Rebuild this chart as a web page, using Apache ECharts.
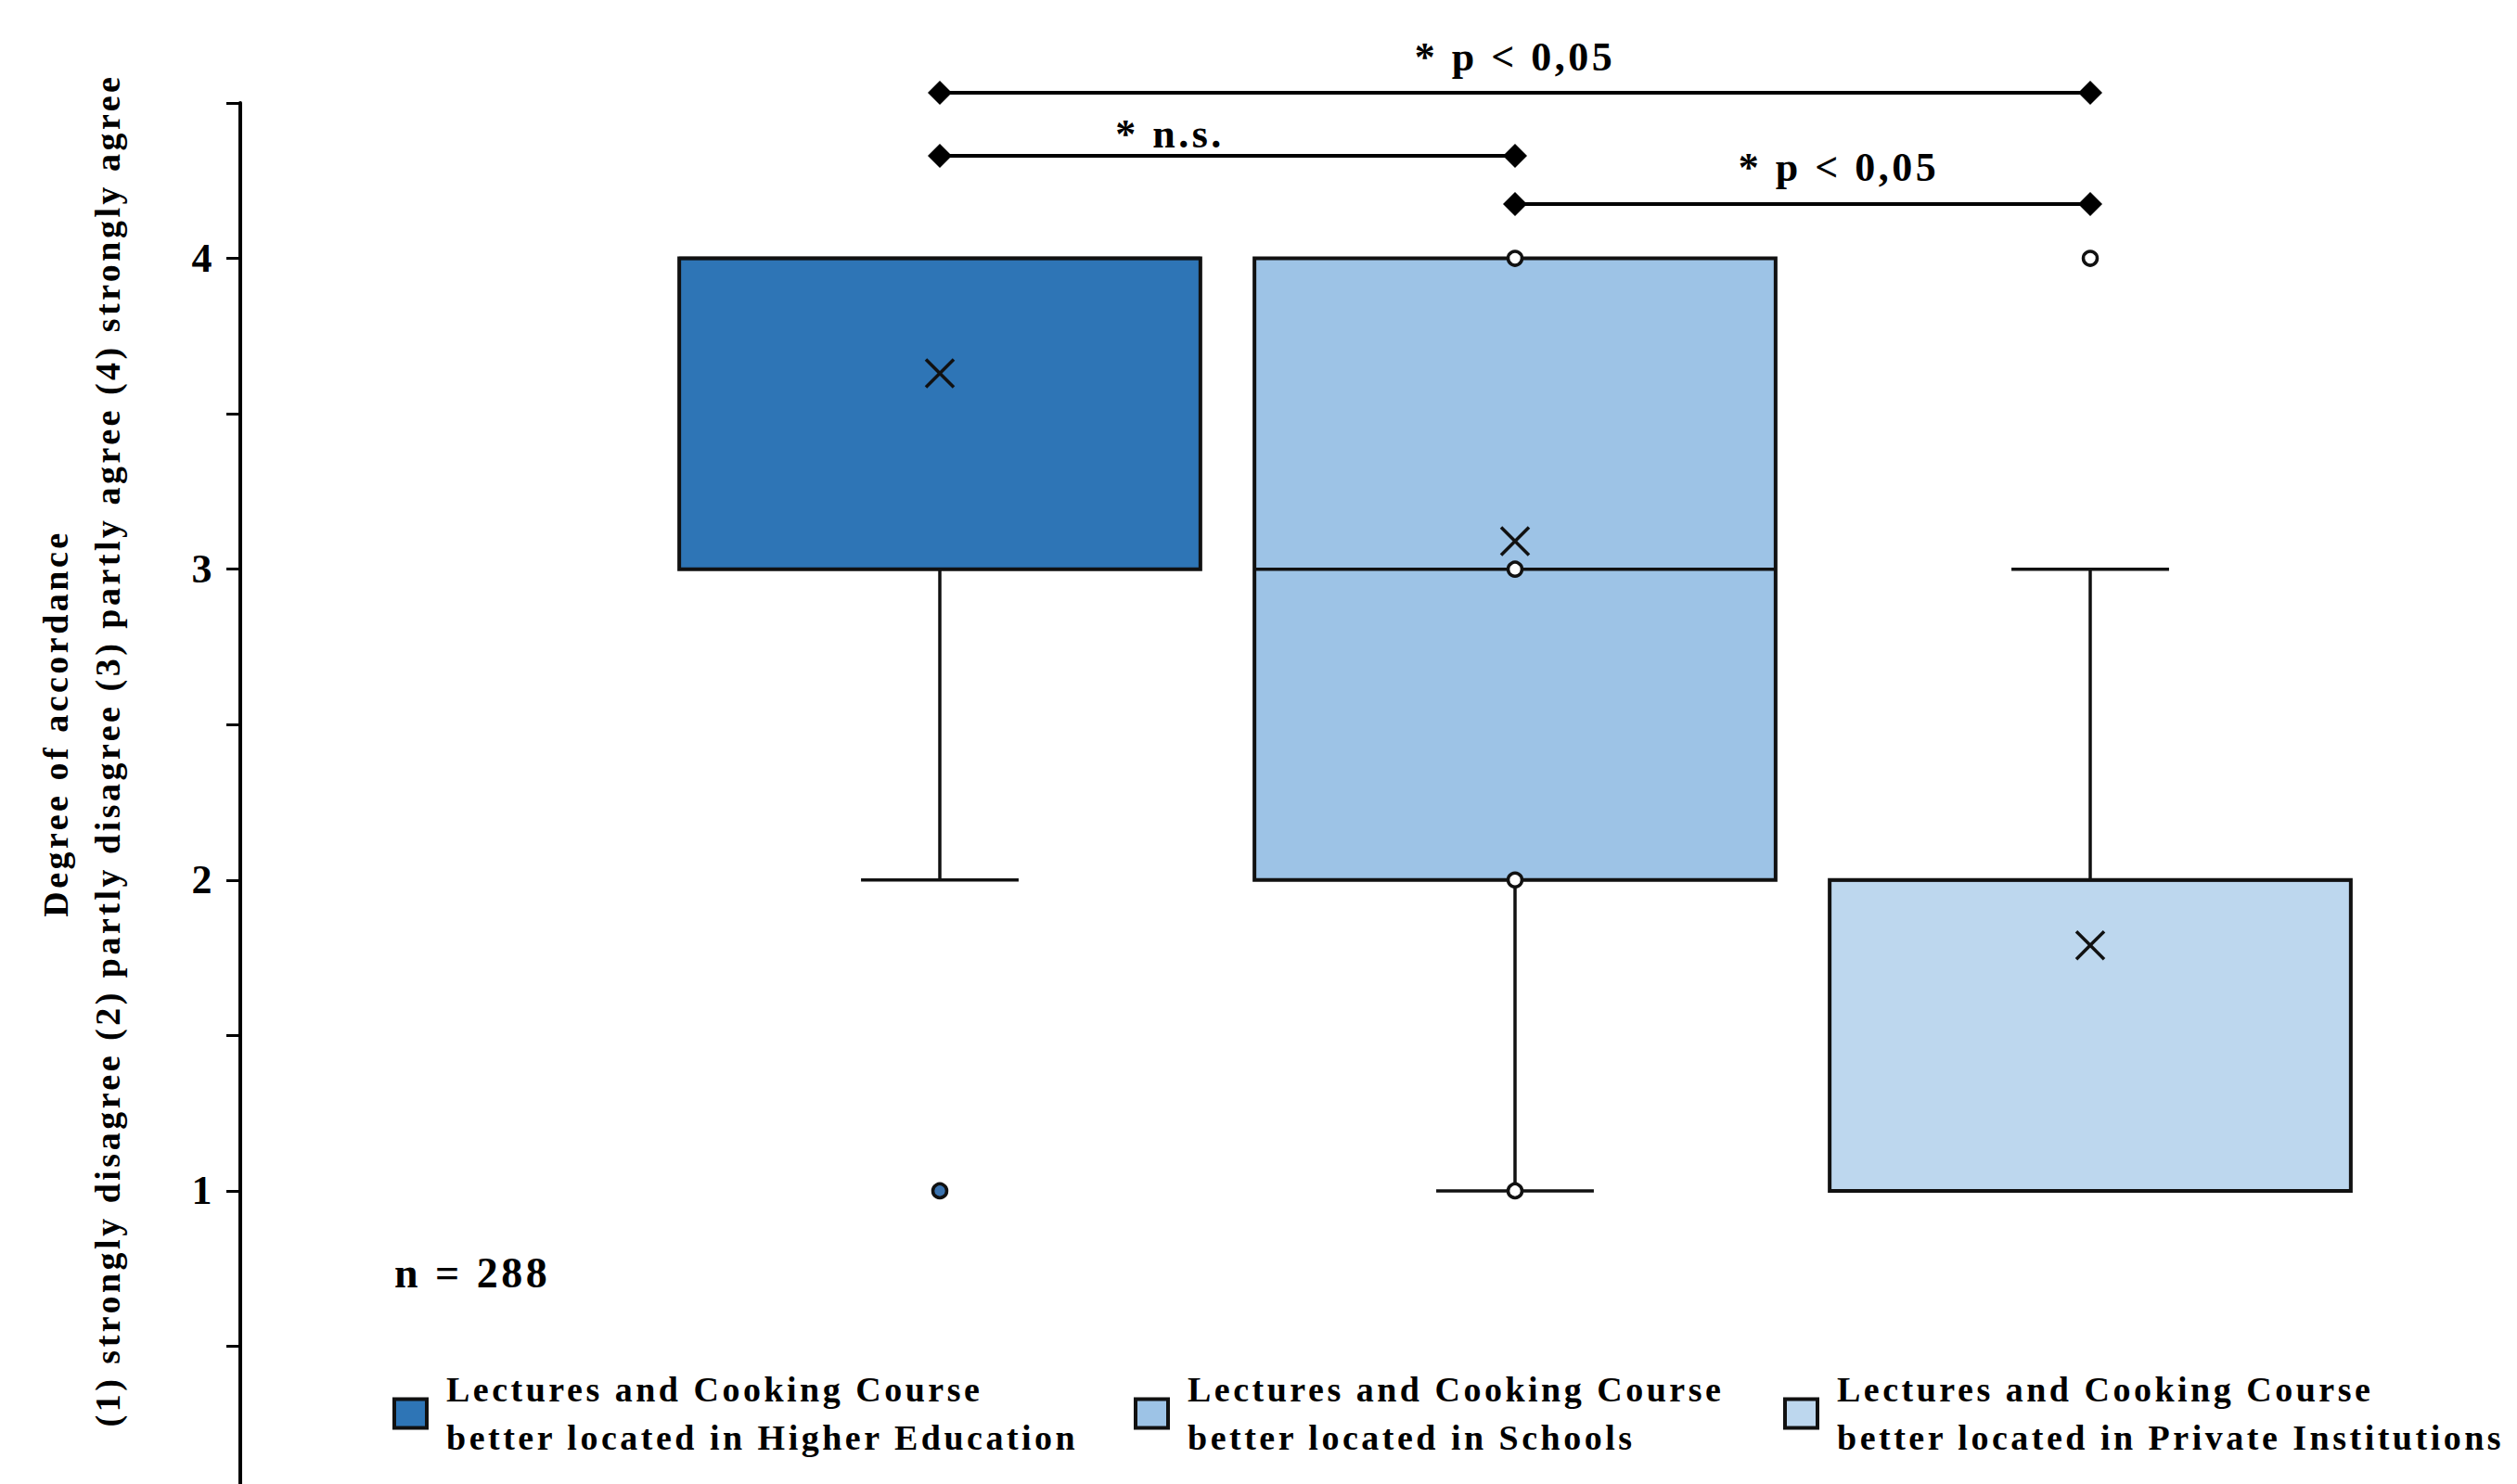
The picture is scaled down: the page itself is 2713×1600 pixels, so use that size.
<!DOCTYPE html>
<html>
<head>
<meta charset="utf-8">
<script src="https://cdn.jsdelivr.net/npm/echarts@6/dist/echarts.min.js"></script>
<style>
html, body { margin: 0; padding: 0; background: #ffffff; }
#main { width: 2713px; height: 1600px; }
#main svg text { letter-spacing: 3.5px; }
</style>
</head>
<body>
<div id="main"></div>
<script>
// ---------------- DATA ----------------
const categories = ['Higher Education', 'Schools', 'Private Institutions'];
const legendNames = [
  'Lectures and Cooking Course\nbetter located in Higher Education',
  'Lectures and Cooking Course\nbetter located in Schools',
  'Lectures and Cooking Course\nbetter located in Private Institutions'
];
const whiskerLow  = [2, 1, 1];
const quartile1   = [3, 2, 1];
const medians     = [4, 3, 2];
const quartile3   = [4, 4, 2];
const whiskerHigh = [4, 4, 3];
const means       = [3.63, 3.09, 1.79];
const pointsHigherEducation = [1];
const pointsSchools         = [4, 3, 2, 1];
const pointsPrivate         = [4];
const yTickLabels = ['1', '2', '3', '4'];
const comparisonFrom   = [0, 0, 1];
const comparisonTo     = [2, 1, 2];
const comparisonLabels = ['* p < 0,05', '* n.s.', '* p < 0,05'];
const sampleSizeText = 'n = 288';
const yTitleLines = [
  'Degree of accordance',
  '(1) strongly disagree (2) partly disagree (3) partly agree (4) strongly agree'
];

// ---------------- LAYOUT / STYLE ----------------
const FONT = '"Liberation Serif", "Times New Roman", Times, serif';
const boxColors = ['#2E75B6', '#9DC3E6', '#BDD7EE'];
const pointFills = ['#3A72AE', '#ffffff', '#ffffff'];
const bracketLevel = [4.533, 4.33, 4.175];
const bracketTextLevel = [4.648, 4.40, 4.293];
const bracketTextFrac = [0.5, 0.40, 0.563];
const legendLeft = [423, 1222, 1922];
const yTitlePos = [[60, 780], [116, 809]];

function boxRender(params, api) {
  const i = api.value(0);
  const band = api.size([1, 0])[0];
  const x = api.coord([i, api.value(2)])[0];
  const yLow = api.coord([i, api.value(1)])[1];
  const yQ1 = api.coord([i, api.value(2)])[1];
  const yMed = api.coord([i, api.value(3)])[1];
  const yQ3 = api.coord([i, api.value(4)])[1];
  const yHigh = api.coord([i, api.value(5)])[1];
  const yMean = api.coord([i, api.value(6)])[1];
  const w = band * 0.906;
  const cw = band * 0.274;
  const stroke = '#111';
  const children = [];
  if (yLow > yQ1 + 0.5) {
    children.push({ type: 'line', shape: { x1: x, y1: yQ1, x2: x, y2: yLow }, style: { stroke, lineWidth: 3.5 } });
    children.push({ type: 'line', shape: { x1: x - cw / 2, y1: yLow, x2: x + cw / 2, y2: yLow }, style: { stroke, lineWidth: 3.5 } });
  }
  if (yHigh < yQ3 - 0.5) {
    children.push({ type: 'line', shape: { x1: x, y1: yQ3, x2: x, y2: yHigh }, style: { stroke, lineWidth: 3.5 } });
    children.push({ type: 'line', shape: { x1: x - cw / 2, y1: yHigh, x2: x + cw / 2, y2: yHigh }, style: { stroke, lineWidth: 3.5 } });
  }
  children.push({ type: 'rect', shape: { x: x - w / 2, y: yQ3, width: w, height: yQ1 - yQ3 },
    style: { fill: api.visual('color'), stroke, lineWidth: 4 } });
  children.push({ type: 'line', shape: { x1: x - w / 2, y1: yMed, x2: x + w / 2, y2: yMed }, style: { stroke, lineWidth: 3.5 } });
  const m = 15;
  children.push({ type: 'line', shape: { x1: x - m, y1: yMean - m, x2: x + m, y2: yMean + m }, style: { stroke, lineWidth: 3.5 } });
  children.push({ type: 'line', shape: { x1: x - m, y1: yMean + m, x2: x + m, y2: yMean - m }, style: { stroke, lineWidth: 3.5 } });
  return { type: 'group', children };
}

function bracketRender(params, api) {
  const idx = params.dataIndex;
  const a = api.coord([api.value(0), bracketLevel[idx]]);
  const b = api.coord([api.value(1), bracketLevel[idx]]);
  const ty = api.coord([api.value(0), bracketTextLevel[idx]])[1];
  const tx = a[0] + (b[0] - a[0]) * bracketTextFrac[idx];
  const d = 13;
  const diamond = (px, py) => ({ type: 'polygon',
    shape: { points: [[px - d, py], [px, py - d], [px + d, py], [px, py + d]] },
    style: { fill: '#000' } });
  return { type: 'group', children: [
    { type: 'line', shape: { x1: a[0], y1: a[1], x2: b[0], y2: b[1] }, style: { stroke: '#000', lineWidth: 4 } },
    diamond(a[0], a[1]), diamond(b[0], b[1]),
    { type: 'text', x: tx, y: ty, style: { text: comparisonLabels[idx], font: 'bold 44px ' + FONT, fill: '#000',
      align: 'center', verticalAlign: 'middle', textAlign: 'center', textVerticalAlign: 'middle' } }
  ] };
}

const series = [];
categories.forEach((c, i) => {
  series.push({
    name: legendNames[i],
    type: 'custom',
    renderItem: boxRender,
    itemStyle: { color: boxColors[i] },
    clip: false,
    z: 2,
    data: [[i, whiskerLow[i], quartile1[i], medians[i], quartile3[i], whiskerHigh[i], means[i]]]
  });
});
series.push({
  name: 'comparisons',
  type: 'custom',
  renderItem: bracketRender,
  clip: false,
  silent: true,
  z: 3,
  data: comparisonFrom.map((f, k) => [f, comparisonTo[k]])
});
[pointsHigherEducation, pointsSchools, pointsPrivate].forEach((pts, i) => {
  series.push({
    name: 'points ' + categories[i],
    type: 'scatter',
    symbol: 'circle',
    symbolSize: 15,
    z: 5,
    itemStyle: { color: pointFills[i], borderColor: '#111', borderWidth: 3.5, opacity: 1 },
    data: pts.map(v => [i, v])
  });
});

const chart = echarts.init(document.getElementById('main'), null, { renderer: 'svg' });
chart.setOption({
  animation: false,
  backgroundColor: '#ffffff',
  grid: { left: 703, right: 150, top: 111, height: 1508, outerBoundsMode: 'none', containLabel: false },
  xAxis: { type: 'category', data: categories, show: false, boundaryGap: true },
  yAxis: {
    type: 'value', min: 0, max: 4.5, interval: 0.5, offset: 444,
    axisLine: { show: true, lineStyle: { color: '#000', width: 4 } },
    axisTick: { show: true, length: 15, lineStyle: { color: '#000', width: 3 } },
    splitLine: { show: false },
    axisLabel: {
      margin: 27, color: '#000', fontSize: 44, fontWeight: 'bold', fontFamily: FONT,
      formatter: v => (Number.isInteger(v) && v >= 1 && v <= 4) ? yTickLabels[v - 1] : ''
    }
  },
  legend: legendNames.map((n, i) => ({
    data: [n], left: legendLeft[i], top: 1472, padding: 0, icon: 'rect',
    itemWidth: 35, itemHeight: 31, selectedMode: false,
    itemStyle: { borderColor: '#111', borderWidth: 4 },
    textStyle: { fontFamily: FONT, fontWeight: 'bold', fontSize: 38, lineHeight: 52, color: '#000', padding: [0, 0, 0, 16] }
  })),
  graphic: yTitleLines.map((t, k) => ({
    type: 'text', x: yTitlePos[k][0], y: yTitlePos[k][1], rotation: Math.PI / 2,
    style: { text: t, font: 'bold 38px ' + FONT, fill: '#000',
      align: 'center', verticalAlign: 'middle', textAlign: 'center', textVerticalAlign: 'middle' }
  })).concat([
    { type: 'text', x: 425, y: 1372,
      style: { text: sampleSizeText, font: 'bold 46px ' + FONT, fill: '#000',
        align: 'left', verticalAlign: 'middle', textAlign: 'left', textVerticalAlign: 'middle' } }
  ]),
  series
});
</script>
</body>
</html>
